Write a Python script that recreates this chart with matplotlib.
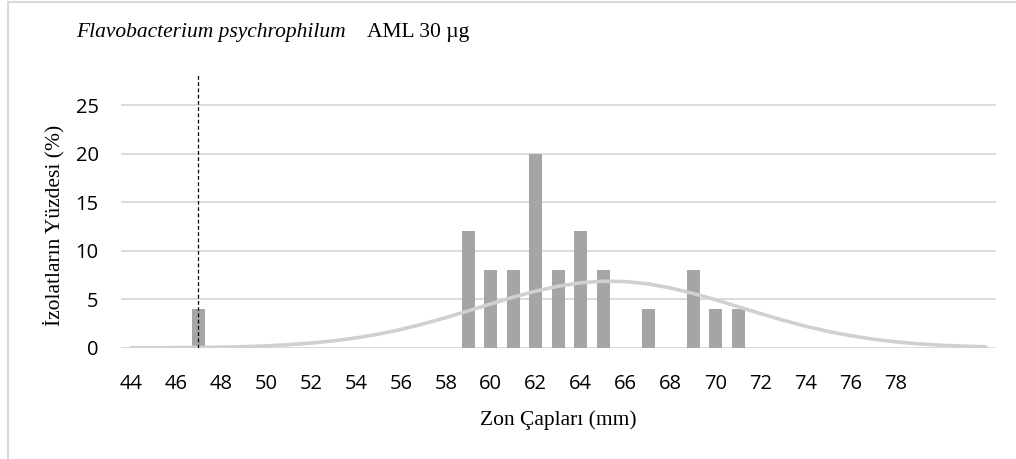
import matplotlib.pyplot as plt
from matplotlib.lines import Line2D

# zone diameters (mm) and share of isolates (%)
bar_zones = [47, 59, 60, 61, 62, 63, 64, 65, 67, 69, 70, 71]
bar_pct = [4, 12, 8, 8, 20, 8, 12, 8, 4, 8, 4, 4]

# fitted distribution curve
curve_zones = list(range(44, 83))
curve_pct = [0.01, 0.02, 0.03, 0.05, 0.08, 0.13, 0.21, 0.33, 0.50, 0.73,
             1.03, 1.42, 1.90, 2.47, 3.12, 3.82, 4.53, 5.23, 5.85, 6.36,
             6.71, 6.87, 6.83, 6.59, 6.17, 5.61, 4.96, 4.24, 3.53, 2.85,
             2.23, 1.70, 1.26, 0.90, 0.63, 0.42, 0.28, 0.18, 0.11]

x_ticks = list(range(44, 79, 2))
y_ticks = [0, 5, 10, 15, 20, 25]
breakpoint_zone = 47

fig = plt.figure(figsize=(10.16, 4.59), dpi=100)
ax = fig.add_axes([0.119, 0.242, 0.861, 0.603])

ax.set_axisbelow(True)
for y in y_ticks:
    ax.axhline(y, color="#d9d9d9", lw=1.3, zorder=0)

ax.bar(bar_zones, bar_pct, width=0.59, color="#a5a5a5", zorder=2)
ax.plot(curve_zones, curve_pct, color="#d0d0d0", lw=2.6,
        solid_capstyle="round", zorder=3)
ax.plot([breakpoint_zone, breakpoint_zone], [0, 28.2], color="black",
        lw=0.9, ls=(0, (3, 2)), zorder=4)

ax.set_xlim(43.55, 82.45)
ax.set_ylim(0, 28.5)
ax.set_xticks(x_ticks)
ax.set_yticks(y_ticks)
ax.tick_params(length=0, labelsize=14.5)
ax.tick_params(axis="x", pad=18.5)
ax.tick_params(axis="y", pad=16)
for lbl in ax.get_xticklabels() + ax.get_yticklabels():
    lbl.set_family("Open Sans")
for s in ax.spines.values():
    s.set_visible(False)

ax.set_xlabel("Zon Çapları (mm)", family="Liberation Serif", fontsize=15.5,
              labelpad=12)
ax.set_ylabel("İzolatların Yüzdesi (%)", family="Liberation Serif",
              fontsize=15.5)
ax.yaxis.set_label_coords(-0.065, 0.444)

fig.text(0.075, 0.93, "Flavobacterium psychrophilum", family="Liberation Serif",
         style="italic", fontsize=15.5, va="center")
fig.text(0.361, 0.93, "AML 30 µg", family="Liberation Serif", fontsize=15.5,
         va="center")

# light frame around the chart area
fig.add_artist(Line2D([0.008, 0.008], [0, 0.996], color="#d9d9d9", lw=1.5))
fig.add_artist(Line2D([0.008, 1.0], [0.996, 0.996], color="#d9d9d9", lw=1.5))

fig.savefig("out.png")
